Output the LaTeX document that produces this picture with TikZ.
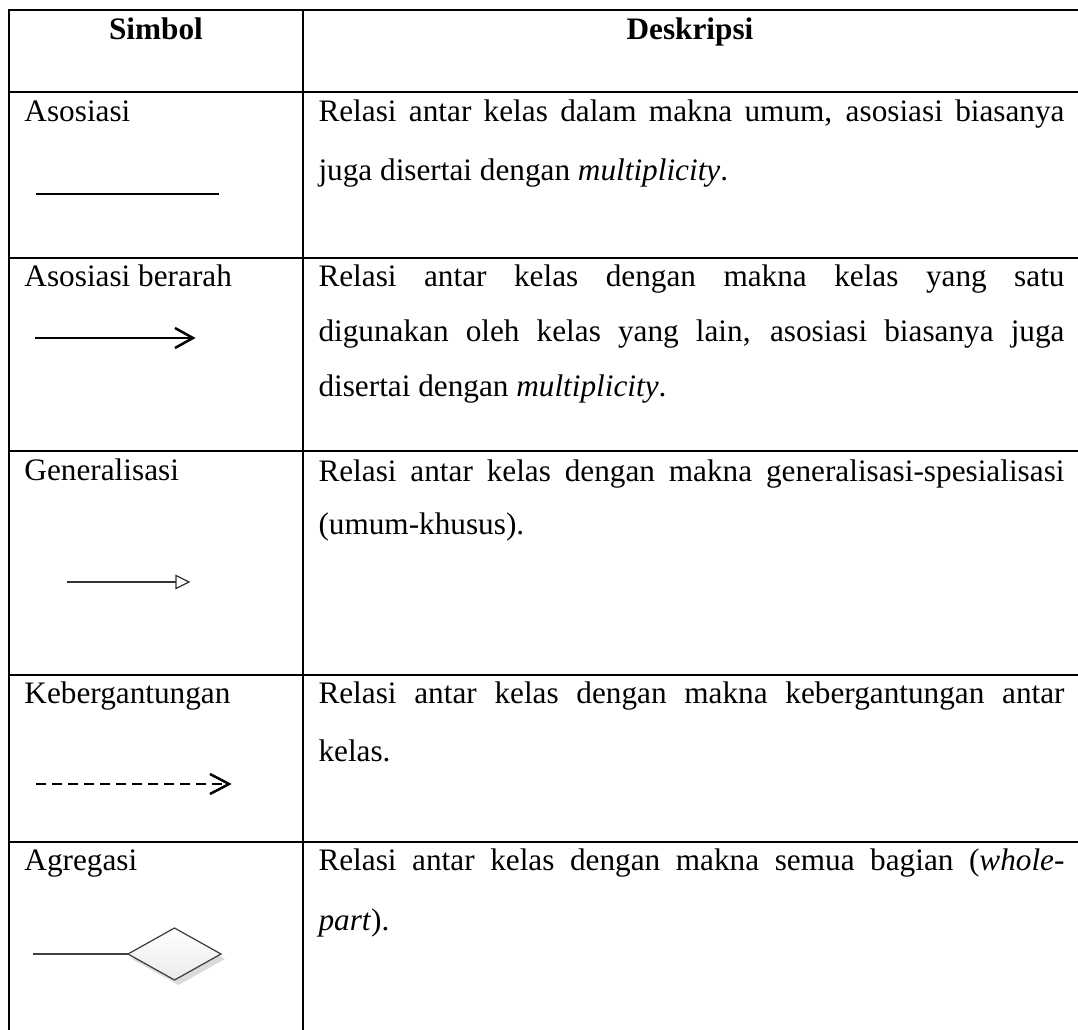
\documentclass[tikz,border=0pt]{standalone}
\usepackage{fontspec}
\setmainfont{Liberation Serif}
\newcommand\justline[1]{\makebox[298.4pt][s]{#1}}
\begin{document}
\begin{tikzpicture}[x=0.4pt,y=-0.4pt,
  grid/.style={line width=0.9pt, black},
  txt/.style={anchor=base west, inner sep=0pt, font=\fontsize{12.5pt}{15pt}\selectfont},
  hdr/.style={anchor=base, inner sep=0pt, font=\fontsize{12.5pt}{15pt}\selectfont\bfseries},
  sym/.style={line width=1pt, black},
  thinsym/.style={line width=0.5pt, black!80}]
\useasboundingbox (0,0) rectangle (1078,1030);
% table rules
\draw[grid] (9,10) -- (1078,10);
\draw[grid] (9,92) -- (1078,92);
\draw[grid] (9,258) -- (1078,258);
\draw[grid] (9,451) -- (1078,451);
\draw[grid] (9,675) -- (1078,675);
\draw[grid] (9,842) -- (1078,842);
\draw[grid] (9,9.5) -- (9,1030);
\draw[grid] (303,9.5) -- (303,1030);
% header
\node[hdr] (h1) at (156,40) {Simbol};
\node[hdr] (h2) at (690,40) {Deskripsi};
% left labels
\node[txt] (l1) at (24,122) {Asosiasi};
\node[txt] (l2) at (24,287) {Asosiasi berarah};
\node[txt] (l3) at (24,481) {Generalisasi};
\node[txt] (l4) at (24,703) {Kebergantungan};
\node[txt] (l5) at (24,870) {Agregasi};
% descriptions
\node[txt] (d1a) at (318,122) {\justline{Relasi antar kelas dalam makna umum, asosiasi biasanya}};
\node[txt] (d1b) at (318,181) {juga disertai dengan \textit{multiplicity}.};
\node[txt] (d2a) at (318,287) {\justline{Relasi antar kelas dengan makna kelas yang satu}};
\node[txt] (d2b) at (318,342) {\justline{digunakan oleh kelas yang lain, asosiasi biasanya juga}};
\node[txt] (d2c) at (318,397) {disertai dengan \textit{multiplicity}.};
\node[txt] (d3a) at (318,482) {\justline{Relasi antar kelas dengan makna generalisasi-spesialisasi}};
\node[txt] (d3b) at (318,535) {(umum-khusus).};
\node[txt] (d4a) at (318,703) {\justline{Relasi antar kelas dengan makna kebergantungan antar}};
\node[txt] (d4b) at (318,761) {kelas.};
\node[txt] (d5a) at (318,870) {\justline{Relasi antar kelas dengan makna semua bagian (\textit{whole-}}};
\node[txt] (d5b) at (318,930) {\textit{part}).};
% symbol: asosiasi
\draw[line width=0.5pt] (36,194) -- (219,194);
% symbol: asosiasi berarah
\draw[sym] (35,338) -- (192,338);
\draw[sym, line join=miter] (175,328) -- (193,338) -- (175,348);
% symbol: generalisasi
\draw[thinsym] (67,582) -- (176,582);
\draw[thinsym, fill=white] (176,575.5) -- (189,582) -- (176,588.5) -- cycle;
% symbol: kebergantungan
\draw[sym, dash pattern=on 3.8pt off 2.6pt] (36,784) -- (227,784);
\draw[sym, line join=miter] (210,774) -- (229,784) -- (210,794);
% symbol: agregasi
\fill[black!14] (132,959) -- (178.5,933) -- (225,959) -- (178.5,985) -- cycle;
\draw[line width=0.8pt, black!75] (33,954) -- (128,954);
\shade[top color=white, bottom color=black!8] (128,954) -- (174.5,928) -- (221,954) -- (174.5,980) -- cycle;
\draw[line width=0.5pt, black!75, line join=miter] (128,954) -- (174.5,928) -- (221,954) -- (174.5,980) -- cycle;
\end{tikzpicture}
\end{document}
